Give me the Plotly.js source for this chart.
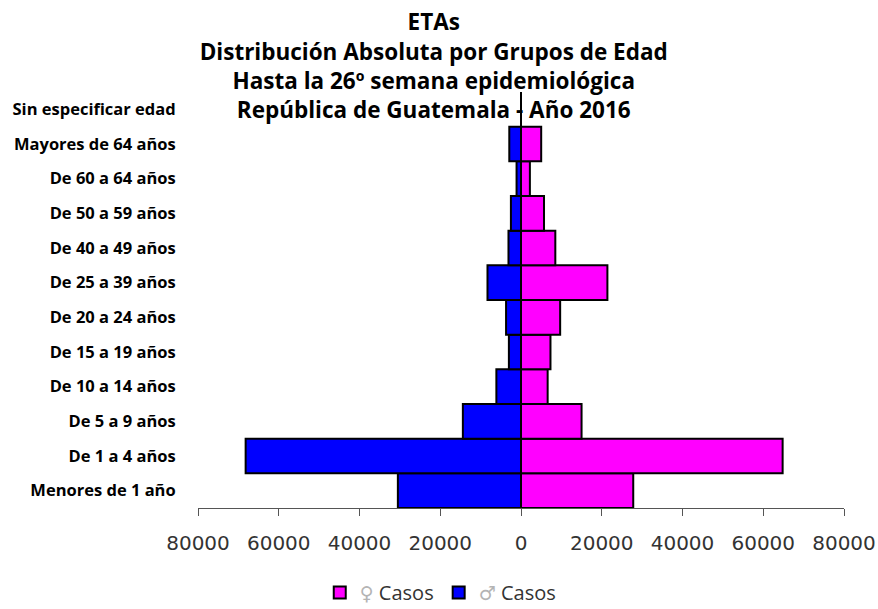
<!DOCTYPE html>
<html>
<head>
<meta charset="utf-8">
<script src="https://cdn.plot.ly/plotly-3.0.1.min.js"></script>
<style>html,body{margin:0;padding:0;background:#fff;}#chart{width:878px;height:609px;}</style>
</head>
<body>
<div id="chart"></div>
<script>
const categories = ["Menores de 1 año","De 1 a 4 años","De 5 a 9 años","De 10 a 14 años","De 15 a 19 años","De 20 a 24 años","De 25 a 39 años","De 40 a 49 años","De 50 a 59 años","De 60 a 64 años","Mayores de 64 años","Sin especificar edad"];
const femaleCases = [27800, 64800, 15000, 6600, 7300, 9700, 21400, 8500, 5700, 2200, 5000, 0];
const maleCases = [30500, 68200, 14400, 6100, 3000, 3700, 8300, 3100, 2500, 1100, 2900, 0];
const xTickVals = [-80000,-60000,-40000,-20000,0,20000,40000,60000,80000];
const xTickText = ["80000","60000","40000","20000","0","20000","40000","60000","80000"];

const sym = s => '<span style="color:#b4b4b4;font-family:DejaVu Sans;font-size:19px">' + s + '</span> Casos';
const traces = [
  {type:'bar', orientation:'h', name:sym('♀'), y:categories, x:femaleCases,
   marker:{color:'#FF00FF', line:{color:'#000', width:2}}, width:1},
  {type:'bar', orientation:'h', name:sym('♂'), y:categories, x:maleCases.map(v=>-v),
   marker:{color:'#0000FF', line:{color:'#000', width:2}}, width:1}
];
const layout = {
  width:878, height:609,
  margin:{l:198, r:34, t:92, b:101, autoexpand:false},
  paper_bgcolor:'#fff', plot_bgcolor:'#fff',
  barmode:'relative', bargap:0,
  title:{text:'ETAs<br>Distribución Absoluta por Grupos de Edad<br>Hasta la 26º semana epidemiológica<br>República de Guatemala - Año 2016',
    font:{family:'Open Sans, sans-serif', size:22.5, color:'#000', weight:'bold'}, x:0.494, xanchor:'center', y:0.95, yanchor:'top', yref:'container'},
  xaxis:{range:[-80000,80000], tickvals:xTickVals, ticktext:xTickText, showgrid:false,
    zeroline:true, zerolinecolor:'#333', zerolinewidth:1,
    showline:true, linecolor:'#555', linewidth:1, ticks:'outside', ticklen:7, tickcolor:'#555', tickwidth:1,
    ticklabelstandoff:10, tickangle:0, tickfont:{family:'DejaVu Sans, sans-serif', size:20, color:'#333'}, fixedrange:true},
  yaxis:{type:'category', categoryorder:'array', categoryarray:categories, range:[-0.5,11.5], showgrid:false, zeroline:false,
    showline:false, ticks:'outside', ticklen:18, tickcolor:'rgba(0,0,0,0)',
    tickfont:{family:'Open Sans, sans-serif', size:16.5, color:'#000', weight:'bold'}},
  showlegend:true,
  legend:{orientation:'h', x:0.375, xanchor:'center', y:-0.25, yanchor:'bottom',
    font:{family:'Open Sans, sans-serif', size:20, color:'#333'}, traceorder:'normal'}
};
Plotly.newPlot('chart', traces, layout, {displayModeBar:false, staticPlot:true});
</script>
</body>
</html>
